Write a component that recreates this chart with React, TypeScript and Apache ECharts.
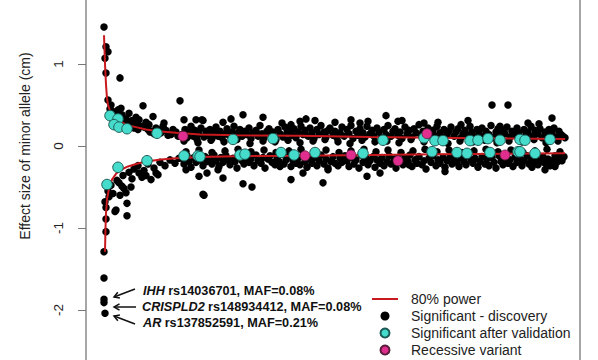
import React, { useEffect, useRef } from "react";
import * as echarts from "echarts";

// x = variant rank, y = effect size of minor allele (cm)
const discoveryPoints: number[][] = [
  // left steep region, upper
  [18, 1.45], [20, 1.21], [22, 1.15], [19, 1.07], [20, 0.89], [34, 0.83], [22, 0.56], [35, 0.46], [57, 0.49],
  [94, 0.55], [98, 0.32], [110, 0.32], [116, 0.32], [67, 0.36], [43, 0.4], [50, 0.35], [53, 0.32], [60, 0.29],
  [45, 0.27], [48, 0.22], [55, 0.24], [62, 0.2], [66, 0.18], [70, 0.22], [75, 0.16], [80, 0.19], [85, 0.14],
  [90, 0.17], [24, 0.45], [28, 0.38], [38, 0.3], [25, 0.5], [27, 0.42], [30, 0.36], [32, 0.44], [36, 0.38],
  [40, 0.33], [42, 0.28], [46, 0.31], [50, 0.26], [52, 0.2], [58, 0.23], [63, 0.26], [68, 0.15], [72, 0.19],
  [77, 0.24], [82, 0.13], [87, 0.2], [92, 0.12], [78, 0.28], [64, 0.17],
  // upper outliers
  [157, 0.38], [177, 0.35], [145, 0.33], [137, 0.29], [117, 0.31], [196, 0.28], [205, 0.26], [214, 0.3],
  [220, 0.33], [229, 0.31], [249, 0.29], [265, 0.32], [274, 0.28], [282, 0.3], [300, 0.37], [406, 0.5],
  [422, 0.5], [466, 0.34], [312, 0.3], [316, 0.31], [338, 0.28], [352, 0.29], [375, 0.26], [382, 0.31],
  [414, 0.24], [442, 0.28], [453, 0.27],
  // upper band
  [96, 0.14], [99, 0.2], [101, 0.1], [103, 0.17], [105, 0.24], [107, 0.12], [109, 0.19], [111, 0.08], [113, 0.15],
  [115, 0.22], [118, 0.11], [120, 0.18], [122, 0.13], [124, 0.2], [126, 0.09], [128, 0.16], [130, 0.23], [132, 0.12],
  [134, 0.18], [136, 0.1], [139, 0.15], [141, 0.21], [143, 0.13], [146, 0.17], [148, 0.24], [150, 0.1], [152, 0.16],
  [154, 0.2], [156, 0.12], [159, 0.18], [161, 0.14], [163, 0.22], [165, 0.09], [167, 0.16], [170, 0.19], [172, 0.12],
  [174, 0.25], [176, 0.15], [178, 0.1], [181, 0.18], [183, 0.21], [185, 0.13], [187, 0.17], [190, 0.08], [192, 0.2],
  [194, 0.15], [197, 0.11], [199, 0.23], [201, 0.16], [203, 0.19], [206, 0.13], [208, 0.21], [210, 0.1], [212, 0.17],
  [215, 0.24], [217, 0.14], [219, 0.19], [222, 0.12], [224, 0.22], [226, 0.16], [228, 0.09], [231, 0.2], [233, 0.14],
  [235, 0.25], [238, 0.17], [240, 0.11], [242, 0.19], [244, 0.22], [247, 0.13], [249, 0.18], [251, 0.1], [254, 0.16],
  [256, 0.23], [258, 0.12], [261, 0.2], [263, 0.15], [265, 0.25], [267, 0.09], [270, 0.18], [272, 0.13], [274, 0.21],
  [277, 0.16], [279, 0.11], [281, 0.24], [284, 0.15], [286, 0.19], [288, 0.12], [291, 0.22], [293, 0.17], [295, 0.1],
  [298, 0.2], [300, 0.14], [302, 0.25], [305, 0.12], [307, 0.18], [309, 0.21], [312, 0.13], [314, 0.17], [316, 0.09],
  [319, 0.23], [321, 0.15], [323, 0.19], [326, 0.11], [328, 0.21], [330, 0.16], [333, 0.26], [335, 0.13], [337, 0.18],
  [340, 0.1], [342, 0.22], [344, 0.15], [347, 0.19], [349, 0.12], [351, 0.24], [354, 0.16], [356, 0.11], [358, 0.2],
  [361, 0.14], [363, 0.18], [365, 0.23], [368, 0.12], [370, 0.17], [372, 0.21], [375, 0.1], [377, 0.15], [379, 0.19],
  [382, 0.13], [384, 0.24], [386, 0.17], [389, 0.11], [391, 0.2], [393, 0.15], [396, 0.22], [398, 0.12], [400, 0.18],
  [403, 0.14], [405, 0.25], [407, 0.1], [410, 0.17], [412, 0.21], [414, 0.13], [417, 0.19], [419, 0.15], [421, 0.23],
  [424, 0.11], [426, 0.18], [428, 0.14], [431, 0.22], [433, 0.16], [435, 0.1], [438, 0.2], [440, 0.13], [442, 0.17],
  [445, 0.24], [447, 0.12], [449, 0.19], [452, 0.15], [454, 0.21], [456, 0.1], [459, 0.17], [461, 0.13], [463, 0.2],
  [466, 0.16], [468, 0.22], [470, 0.11], [473, 0.18], [475, 0.14], [477, 0.12], [479, 0.1],
  [98, 0.06], [112, 0.04], [125, 0.07], [138, 0.05], [151, 0.08], [164, 0.03], [177, 0.06], [189, 0.05], [202, 0.07],
  [214, 0.04], [227, 0.06], [239, 0.08], [252, 0.05], [264, 0.03], [276, 0.07], [289, 0.05], [301, 0.06], [313, 0.04],
  [325, 0.08], [338, 0.05], [350, 0.07], [362, 0.03], [374, 0.06], [387, 0.05], [399, 0.07], [411, 0.04], [423, 0.06],
  [436, 0.05], [448, 0.08], [460, 0.04], [472, 0.06],
  // left steep region, lower
  [19, -0.68], [29, -0.8], [41, -0.7], [41, -0.85], [20, -0.75], [20, -0.89], [20, -1.045], [18, -1.29],
  [18, -1.61], [18, -1.87], [18, -1.91], [19, -2.04], [30, -0.78], [33, -0.45], [38, -0.52], [40, -0.57],
  [36, -0.49], [53, -0.33], [56, -0.38], [65, -0.41], [72, -0.35], [22, -0.55], [23, -0.62], [25, -0.48],
  [27, -0.58], [31, -0.42], [34, -0.6], [37, -0.36], [43, -0.32], [46, -0.4], [48, -0.28], [52, -0.24],
  [58, -0.3], [62, -0.22], [68, -0.27], [74, -0.2], [79, -0.24], [84, -0.17], [89, -0.21], [93, -0.15],
  [70, -0.33], [60, -0.36], [45, -0.5],
  // lower outliers
  [117, -0.59], [113, -0.37], [100, -0.29], [137, -0.39], [118, -0.6], [157, -0.46], [166, -0.5], [205, -0.41],
  [237, -0.45], [281, -0.37], [217, -0.33], [194, -0.25], [242, -0.29], [294, -0.33], [121, -0.33], [132, -0.29],
  [359, -0.31], [323, -0.23], [459, -0.29], [469, -0.25], [446, -0.26],
  // lower band
  [96, -0.15], [98, -0.22], [101, -0.12], [103, -0.19], [105, -0.26], [108, -0.14], [110, -0.2], [112, -0.1],
  [114, -0.17], [117, -0.24], [119, -0.13], [121, -0.19], [124, -0.15], [126, -0.22], [128, -0.11], [130, -0.18],
  [133, -0.25], [135, -0.14], [137, -0.2], [140, -0.12], [142, -0.17], [144, -0.23], [147, -0.15], [149, -0.19],
  [151, -0.27], [154, -0.12], [156, -0.18], [158, -0.22], [161, -0.14], [163, -0.2], [165, -0.16], [168, -0.24],
  [170, -0.11], [172, -0.18], [175, -0.21], [177, -0.14], [179, -0.27], [182, -0.16], [184, -0.12], [186, -0.2],
  [189, -0.23], [191, -0.15], [193, -0.19], [196, -0.1], [198, -0.22], [200, -0.17], [203, -0.13], [205, -0.25],
  [207, -0.18], [210, -0.21], [212, -0.15], [214, -0.23], [217, -0.12], [219, -0.19], [221, -0.26], [224, -0.16],
  [226, -0.21], [228, -0.14], [231, -0.24], [233, -0.18], [235, -0.11], [238, -0.22], [240, -0.16], [242, -0.27],
  [245, -0.19], [247, -0.13], [249, -0.21], [252, -0.24], [254, -0.15], [256, -0.2], [259, -0.12], [261, -0.18],
  [263, -0.25], [266, -0.14], [268, -0.22], [270, -0.17], [273, -0.27], [275, -0.11], [277, -0.2], [280, -0.15],
  [282, -0.23], [284, -0.18], [287, -0.13], [289, -0.26], [291, -0.17], [294, -0.21], [296, -0.14], [298, -0.24],
  [301, -0.19], [303, -0.12], [305, -0.22], [308, -0.16], [310, -0.27], [312, -0.14], [315, -0.2], [317, -0.23],
  [319, -0.15], [322, -0.19], [324, -0.11], [326, -0.25], [329, -0.17], [331, -0.21], [333, -0.13], [336, -0.23],
  [338, -0.18], [340, -0.28], [343, -0.15], [345, -0.2], [347, -0.12], [350, -0.24], [352, -0.17], [354, -0.21],
  [357, -0.14], [359, -0.26], [361, -0.18], [364, -0.13], [366, -0.22], [368, -0.16], [371, -0.2], [373, -0.25],
  [375, -0.14], [378, -0.19], [380, -0.23], [382, -0.12], [385, -0.17], [387, -0.21], [389, -0.15], [392, -0.26],
  [394, -0.19], [396, -0.13], [399, -0.22], [401, -0.16], [403, -0.24], [406, -0.14], [408, -0.2], [410, -0.27],
  [413, -0.12], [415, -0.19], [417, -0.23], [420, -0.15], [422, -0.21], [424, -0.17], [427, -0.25], [429, -0.13],
  [431, -0.2], [434, -0.16], [436, -0.24], [438, -0.18], [441, -0.12], [443, -0.22], [445, -0.17], [448, -0.2],
  [450, -0.14], [452, -0.23], [455, -0.19], [457, -0.13], [459, -0.21], [462, -0.16], [464, -0.24], [466, -0.18],
  [469, -0.12], [471, -0.2], [473, -0.15], [476, -0.18], [478, -0.13],
  [100, -0.07], [113, -0.05], [126, -0.08], [139, -0.06], [152, -0.04], [165, -0.07], [178, -0.05], [190, -0.08],
  [203, -0.06], [215, -0.04], [228, -0.07], [240, -0.05], [253, -0.08], [265, -0.06], [278, -0.04], [290, -0.07],
  [302, -0.05], [315, -0.08], [327, -0.06], [339, -0.04], [351, -0.07], [363, -0.05], [376, -0.08], [388, -0.06],
  [400, -0.04], [412, -0.07], [425, -0.05], [437, -0.08], [449, -0.06], [461, -0.04], [474, -0.07],
];

const validatedPoints: number[][] = [
  [24, 0.37], [32, 0.33], [28, 0.26], [33, 0.23], [41, 0.21], [71, 0.155], [147, 0.08], [187, 0.09], [297, 0.07],
  [338, 0.1], [349, 0.065], [357, 0.065], [384, 0.065], [392, 0.07], [402, 0.09], [414, 0.07], [434, 0.08],
  [439, 0.07], [464, 0.08],
  [21, -0.47], [32, -0.26], [61, -0.18], [98, -0.12], [112, -0.12], [114, -0.13], [154, -0.11], [159, -0.1],
  [195, -0.08], [208, -0.11], [229, -0.08], [277, -0.09], [346, -0.07], [371, -0.08], [381, -0.09], [404, -0.08],
  [432, -0.07], [434, -0.07], [449, -0.09],
];

const recessivePoints: number[][] = [
  [97, 0.12], [341, 0.15], [219, -0.12], [265, -0.11], [312, -0.18], [419, -0.11],
];

const powerUpper: number[][] = [
  [18, 1.35], [19, 1.0], [20, 0.75], [21, 0.58], [22, 0.5], [24, 0.43], [27, 0.37], [30, 0.33], [35, 0.29],
  [42, 0.25], [50, 0.23], [60, 0.2], [75, 0.175], [90, 0.16], [114, 0.14], [150, 0.13], [214, 0.125],
  [284, 0.11], [350, 0.1], [420, 0.09], [479, 0.085],
];
const powerLower: number[][] = [
  [19, -1.29], [19.5, -1.0], [20, -0.82], [21, -0.65], [23, -0.52], [26, -0.41], [30, -0.34], [35, -0.29],
  [42, -0.25], [50, -0.22], [60, -0.19], [75, -0.165], [90, -0.15], [114, -0.135], [150, -0.125], [214, -0.12],
  [284, -0.11], [350, -0.1], [420, -0.095], [479, -0.09],
];

const yTicks = [-2, -1, 0, 1];
const legendNames = ["80% power", "Significant - discovery", "Significant after validation", "Recessive variant"];
const annotations = [
  { gene: "IHH", rest: "rs14036701, MAF=0.08%" },
  { gene: "CRISPLD2", rest: "rs148934412, MAF=0.08%" },
  { gene: "AR", rest: "rs137852591, MAF=0.21%" },
];

const FONT = "'Liberation Sans', Arial, Helvetica, sans-serif";

export default function App() {
  const ref = useRef<HTMLDivElement>(null);
  useEffect(() => {
    if (!ref.current) return;
    const chart = echarts.init(ref.current, null, { renderer: "svg" });
    const yMin = -2.61;
    const yMax = 1.78;
    const annY = [291, 307, 323];
    const annX = [143, 142, 143];
    const graphics: any[] = [];
    annotations.forEach((a, i) => {
      graphics.push({
        type: "text",
        x: annX[i],
        y: annY[i],
        style: {
          text: `{i|${a.gene}} {b|${a.rest}}`,
          verticalAlign: "middle",
          rich: {
            i: { fontFamily: FONT, fontSize: 12.7, fontWeight: "bold", fontStyle: "italic", fill: "#111" },
            b: { fontFamily: FONT, fontSize: 12.7, fontWeight: "bold", fill: "#111" },
          },
        },
      });
    });
    const arrows = [
      { line: [[135, 289], [114, 297]], head: [[119.9, 298], [114, 297], [117.8, 292.3]] },
      { line: [[136, 307], [114, 307]], head: [[119.5, 303.8], [114, 307], [119.5, 310.2]] },
      { line: [[135, 324], [114, 316]], head: [[117.8, 320.7], [114, 316], [119.9, 315]] },
    ];
    arrows.forEach((a) => {
      graphics.push({
        type: "line",
        shape: { x1: a.line[0][0], y1: a.line[0][1], x2: a.line[1][0], y2: a.line[1][1] },
        style: { stroke: "#111", lineWidth: 1.5 },
      });
      graphics.push({
        type: "polyline",
        shape: { points: a.head },
        style: { stroke: "#111", lineWidth: 1.5, fill: null },
      });
    });
    graphics.push({
      type: "text",
      x: 25,
      y: 146,
      rotation: Math.PI / 2,
      style: {
        text: "Effect size of minor allele (cm)",
        fontFamily: FONT,
        fontSize: 14,
        fill: "#222",
        align: "center",
        verticalAlign: "middle",
      },
    });

    chart.setOption({
      animation: false,
      backgroundColor: "#ffffff",
      grid: { left: 86, right: 18, top: 0, bottom: 0, containLabel: false },
      xAxis: { type: "value", min: 0, max: 494, show: false },
      yAxis: [
        {
          type: "value",
          min: yMin,
          max: yMax,
          axisLine: { show: true, lineStyle: { color: "#888", width: 1.5 } },
          axisTick: { show: true, length: 8, lineStyle: { color: "#777", width: 1 }, customValues: yTicks },
          axisLabel: {
            show: true,
            rotate: 90,
            margin: 21,
            color: "#222",
            fontFamily: FONT,
            fontSize: 13.5,
            customValues: yTicks,
          },
          splitLine: { show: false },
        },
        {
          type: "value",
          min: yMin,
          max: yMax,
          position: "right",
          axisLine: { show: true, lineStyle: { color: "#888", width: 1.5 } },
          axisTick: { show: false },
          axisLabel: { show: false },
          splitLine: { show: false },
        },
      ],
      legend: {
        orient: "vertical",
        left: 372,
        top: 291,
        height: 69,
        padding: 0,
        itemWidth: 26,
        itemHeight: 9,
        itemGap: 1,
        data: [
          { name: legendNames[0], icon: "path://M0 0H26V2H0Z" },
          { name: legendNames[1], icon: "circle" },
          { name: legendNames[2], icon: "circle" },
          { name: legendNames[3], icon: "circle" },
        ],
        textStyle: { fontFamily: FONT, fontSize: 14, color: "#222", lineHeight: 16, padding: [0, 0, 0, 8] },
        selectedMode: false,
      },
      series: [
        {
          name: legendNames[1],
          type: "scatter",
          data: discoveryPoints,
          symbol: "circle",
          symbolSize: 7.5,
          itemStyle: { color: "#000000", opacity: 1 },
          z: 2,
        },
        {
          name: legendNames[0],
          type: "line",
          data: powerUpper,
          symbol: "none",
          lineStyle: { color: "#c8191e", width: 2 },
          itemStyle: { color: "#c8191e" },
          z: 3,
        },
        {
          name: legendNames[0],
          type: "line",
          data: powerLower,
          symbol: "none",
          lineStyle: { color: "#c8191e", width: 2 },
          itemStyle: { color: "#c8191e" },
          z: 3,
        },
        {
          name: legendNames[2],
          type: "scatter",
          data: validatedPoints,
          symbol: "circle",
          symbolSize: 10.5,
          itemStyle: { color: "#45dccb", borderColor: "#1d5a55", borderWidth: 1, opacity: 1 },
          z: 4,
        },
        {
          name: legendNames[3],
          type: "scatter",
          data: recessivePoints,
          symbol: "circle",
          symbolSize: 10,
          itemStyle: { color: "#df2e8e", borderColor: "#5a1d3a", borderWidth: 0.8, opacity: 1 },
          z: 5,
        },
      ],
      graphic: graphics,
    });
    return () => chart.dispose();
  }, []);
  return (
    <div
      ref={ref}
      style={{ position: "fixed", left: 0, top: 0, width: 598, height: 360, background: "#fff" }}
    />
  );
}
